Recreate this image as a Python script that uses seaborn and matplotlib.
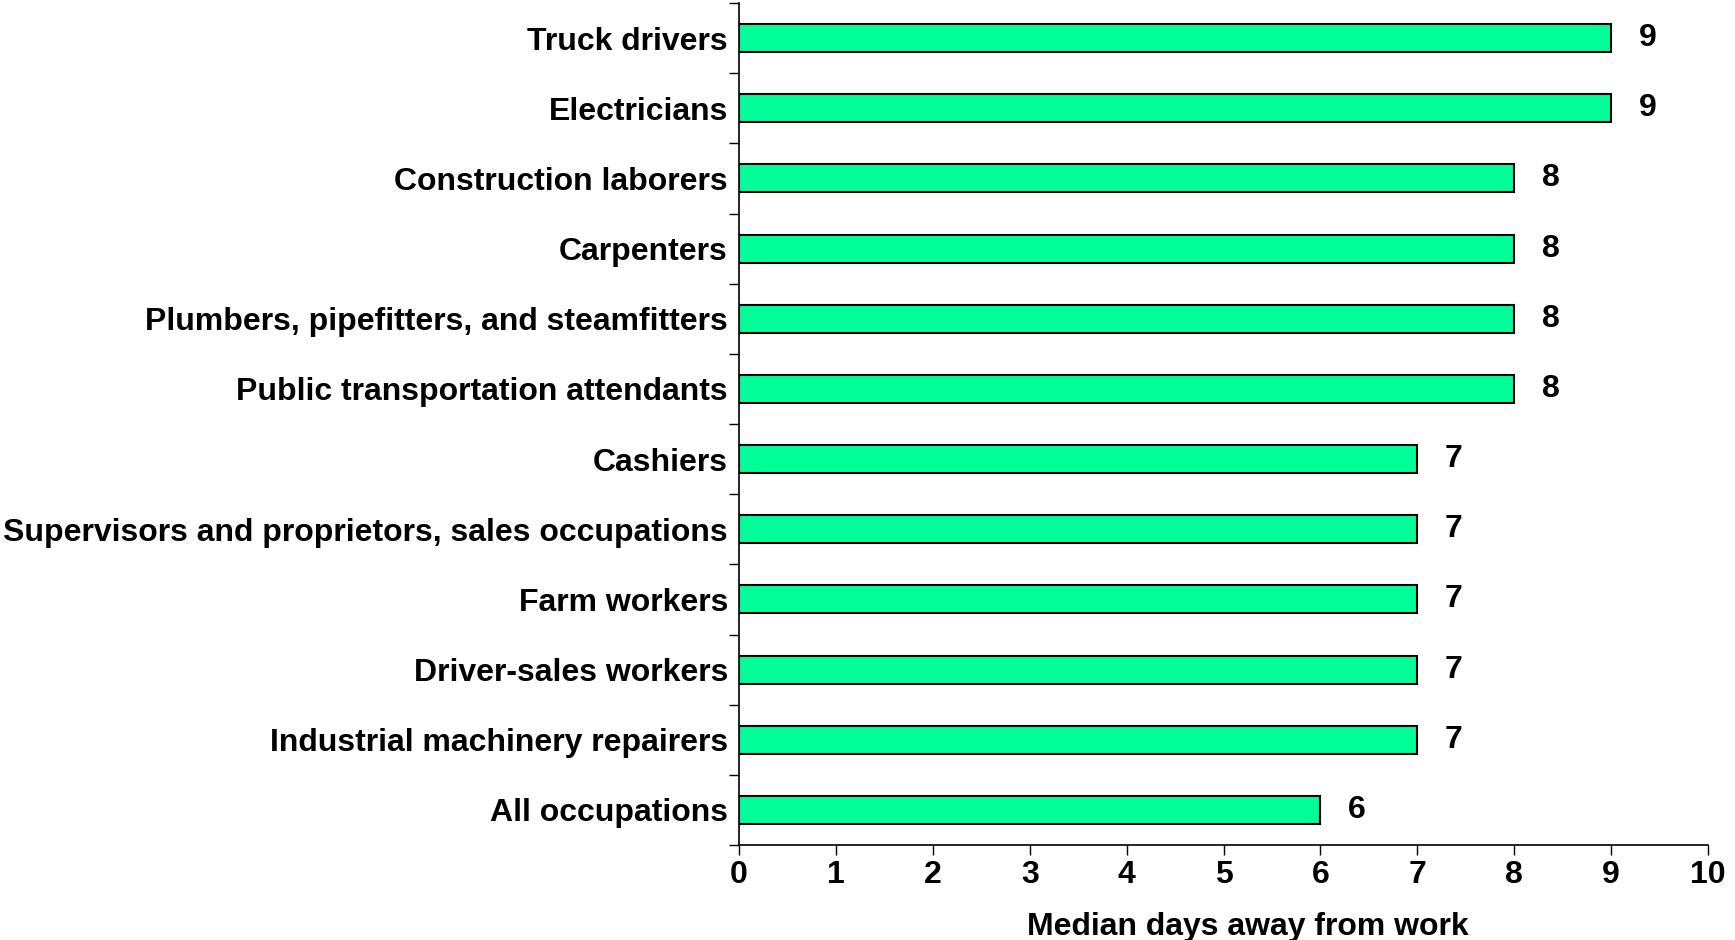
import matplotlib
matplotlib.use("Agg")
import matplotlib.pyplot as plt
import seaborn as sns
import pandas as pd
import numpy as np

categories = [
    "Truck drivers",
    "Electricians",
    "Construction laborers",
    "Carpenters",
    "Plumbers, pipefitters, and steamfitters",
    "Public transportation attendants",
    "Cashiers",
    "Supervisors and proprietors, sales occupations",
    "Farm workers",
    "Driver-sales workers",
    "Industrial machinery repairers",
    "All occupations",
]
values = [9, 9, 8, 8, 8, 8, 7, 7, 7, 7, 7, 6]
x_ticks = list(range(0, 11))
x_label = "Median days away from work"

sns.set_theme(style="white")
plt.rcParams["font.family"] = ["Liberation Sans", "DejaVu Sans"]
plt.rcParams["font.weight"] = "bold"
plt.rcParams["text.color"] = "black"
plt.rcParams["axes.labelcolor"] = "black"
plt.rcParams["xtick.color"] = "black"
plt.rcParams["ytick.color"] = "black"

FS = 23

df = pd.DataFrame({"occupation": categories, "days": values})

fig = plt.figure(figsize=(17.35, 9.4), dpi=100)
ax = fig.add_axes([0.426, 0.101, 0.5584, 0.8958])

sns.barplot(data=df, y="occupation", x="days", orient="h", color="#00FF99",
            edgecolor="black", linewidth=1.5, width=0.4, saturation=1, ax=ax)

ax.set_xlim(0, 10)
ax.set_ylim(len(categories) - 0.5, -0.5)
ax.set_xticks(x_ticks)
ax.set_xticklabels([str(t) for t in x_ticks], fontsize=FS, fontweight="bold", color="black")

# category boundary ticks (major), labels at centers (minor)
ax.set_yticks(np.arange(-0.5, len(categories), 1.0))
ax.set_yticklabels([])
ax.set_yticks(np.arange(len(categories)), minor=True)
ax.set_yticklabels(categories, minor=True, fontsize=FS, fontweight="bold", color="black")
ax.tick_params(axis="y", which="major", direction="out", length=7, width=1, color="black", left=True)
ax.tick_params(axis="y", which="minor", length=0, pad=8)
ax.tick_params(axis="x", direction="out", length=7, width=1, color="black", bottom=True, pad=4)

ax.set_ylabel("")
ax.set_xlabel(x_label, fontsize=FS, fontweight="bold", color="black")
ax.xaxis.set_label_coords(0.525, -0.079, transform=ax.transAxes)

for s in ["top", "right"]:
    ax.spines[s].set_visible(False)
for s in ["left", "bottom"]:
    ax.spines[s].set_color("black")
    ax.spines[s].set_linewidth(1.2)

for c in ax.containers:
    ax.bar_label(c, padding=20, fontsize=FS, fontweight="bold", color="black")

fig.savefig("out.png", dpi=100)
